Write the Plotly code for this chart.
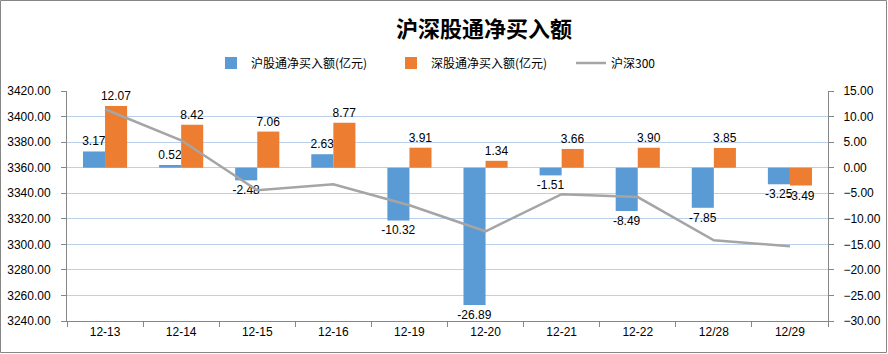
import plotly.graph_objects as go

categories = ["12-13", "12-14", "12-15", "12-16", "12-19", "12-20", "12-21", "12-22", "12/28", "12/29"]
sh_net = [3.17, 0.52, -2.48, 2.63, -10.32, -26.89, -1.51, -8.49, -7.85, -3.25]
sz_net = [12.07, 8.42, 7.06, 8.77, 3.91, 1.34, 3.66, 3.90, 3.85, -3.49]
hs300 = [3405.7, 3381.4, 3342.3, 3347.0, 3330.6, 3310.2, 3339.2, 3337.0, 3303.2, 3298.5]

W, H = 888, 354
ML, MR, MT, MB = 67, 60, 91, 33
PW, PH = W - ML - MR, H - MT - MB

font = "Liberation Sans, Arial, sans-serif"
cjk = "Noto Sans CJK SC, sans-serif"
axis_col = "#868686"

fig = go.Figure()
fig.add_trace(go.Bar(
    x=categories, y=sh_net, name="沪股通净买入额(亿元)",
    marker=dict(color="#5B9BD5", line=dict(width=0)),
    text=[f"{v:.2f}" for v in sh_net], textposition="outside",
    textfont=dict(family=font, size=12, color="#000"),
    constraintext="none", cliponaxis=False, yaxis="y",
))
fig.add_trace(go.Bar(
    x=categories, y=sz_net, name="深股通净买入额(亿元)",
    marker=dict(color="#ED7D31", line=dict(width=0)),
    text=[f"{v:.2f}" for v in sz_net], textposition="outside",
    textfont=dict(family=font, size=12, color="#000"),
    constraintext="none", cliponaxis=False, yaxis="y",
))
fig.add_trace(go.Scatter(
    x=categories, y=hs300, name="沪深300", mode="lines",
    line=dict(color="#A5A5A5", width=2.5), yaxis="y2",
))

fig.update_layout(
    width=W, height=H,
    margin=dict(l=ML, r=MR, t=MT, b=MB, autoexpand=False),
    paper_bgcolor="white", plot_bgcolor="white",
    barmode="group", bargap=0.42, bargroupgap=0,
    title=dict(text="<b>沪深股通净买入额</b>", x=484 / W, xref="container", xanchor="center",
               y=1 - 29 / H, yref="container", yanchor="middle",
               font=dict(family=cjk, size=22, color="#000")),
    legend=dict(orientation="h", x=(211 - ML) / PW, xanchor="left",
                y=1 + (MT - 63) / PH, yanchor="middle",
                entrywidth=135, entrywidthmode="pixels",
                font=dict(family=cjk, size=12, color="#000"), bgcolor="rgba(0,0,0,0)",
                traceorder="normal"),
    xaxis=dict(type="category", showline=True, linecolor=axis_col, linewidth=1,
               ticks="outside", tickson="boundaries", ticklen=5, tickcolor=axis_col,
               tickfont=dict(family=font, size=12, color="#000"), showgrid=False,
               tickangle=0, range=[-0.5, len(categories) - 0.5]),
    yaxis=dict(side="right", range=[-30, 15], dtick=5, tickformat=".2f",
               showline=True, linecolor=axis_col, linewidth=1, ticks="outside", ticklen=5,
               tickcolor=axis_col, tickfont=dict(family=font, size=12, color="#000"),
               showgrid=True, gridcolor="#BCD0EE", gridwidth=1, zeroline=False,
               ticklabelstandoff=7),
    yaxis2=dict(side="left", overlaying="y", range=[3240, 3420], dtick=20, tickformat=".2f",
                showline=True, linecolor=axis_col, linewidth=1, ticks="outside", ticklen=5,
                tickcolor=axis_col, tickfont=dict(family=font, size=12, color="#000"),
                showgrid=False, zeroline=False, ticklabelstandoff=8),
    shapes=[dict(type="rect", xref="paper", yref="paper",
                 x0=-(ML - 0.5) / PW, x1=1 + (MR - 1.5) / PW,
                 y0=-(MB - 1.5) / PH, y1=1 + (MT - 0.5) / PH,
                 line=dict(color=axis_col, width=1), layer="below")],
)

fig.write_html("out.html")
